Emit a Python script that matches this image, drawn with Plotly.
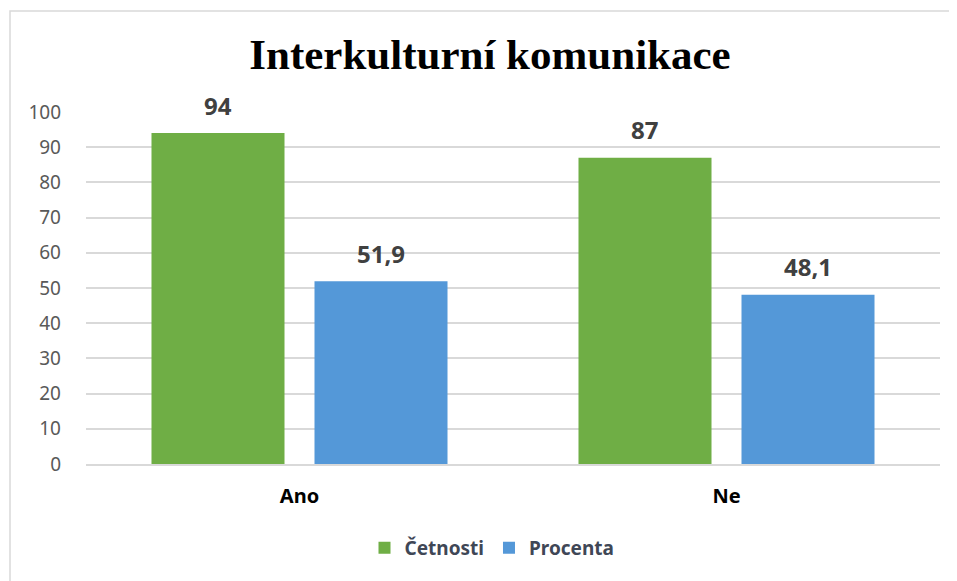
import plotly.graph_objects as go

categories = ["Ano", "Ne"]
cetnosti = [94, 87]
procenta = [51.9, 48.1]
y_ticks = [0, 10, 20, 30, 40, 50, 60, 70, 80, 90, 100]

def fmt(v):
    s = ("%g" % v)
    return s.replace(".", ",")

OFF = 8  # default page body margin
W, H = 957 - OFF, 581 - OFF
# target pixel positions in the screenshot, converted to figure coordinates
ml, mr = 86 - OFF, 957 - 940
mt, mb = 112 - OFF, 581 - 464
pw, ph = W - ml - mr, H - mt - mb

BARGAP = 0.2365
GROUPGAP = 0.184

def px_x(p):
    return (p - OFF - ml) / pw

def px_y(p):
    return (H - mb - (p - OFF)) / ph

label_font = dict(family="Noto Sans", size=24, color="#404040", weight="bold")

series = [("Četnosti", cetnosti, "#6fae45"), ("Procenta", procenta, "#5498d8")]

fig = go.Figure()
for name, vals, col in series:
    fig.add_trace(go.Bar(
        x=categories, y=vals, name=name,
        marker=dict(color=col, line=dict(width=0)),
    ))

# value labels, placed above each bar through the axes
cat_px = pw / len(categories)
slot_px = cat_px * (1 - BARGAP) / len(series)
for i, (name, vals, col) in enumerate(series):
    xs = (i - (len(series) - 1) / 2) * slot_px
    for c, v in zip(categories, vals):
        fig.add_annotation(x=c, y=v, text=fmt(v), showarrow=False,
                           xshift=xs, yshift=28, yanchor="middle", xanchor="center",
                           font=label_font)

fig.add_shape(type="rect", xref="paper", yref="paper",
              x0=px_x(10), x1=px_x(1000), y0=px_y(640), y1=px_y(11),
              line=dict(color="#d9d9d9", width=1.5), fillcolor="rgba(0,0,0,0)",
              layer="below")

fig.update_layout(
    width=W, height=H,
    margin=dict(l=ml, r=mr, t=mt, b=mb, pad=0),
    paper_bgcolor="white", plot_bgcolor="white",
    barmode="group", bargap=BARGAP, bargroupgap=GROUPGAP,
    title=dict(text="<b>Interkulturní komunikace</b>",
               x=(490 - OFF) / W, xanchor="center",
               y=1 - (54 - OFF) / H, yanchor="middle",
               font=dict(family="Liberation Serif", size=43, color="#000000")),
    showlegend=True,
    legend=dict(orientation="h", x=px_x(492), xanchor="center", y=px_y(548), yanchor="middle",
                font=dict(family="Noto Sans", size=19, color="#3f4756", weight="bold"),
                itemwidth=30, traceorder="normal", bgcolor="rgba(0,0,0,0)"),
    font=dict(family="Noto Sans"),
)
fig.update_xaxes(
    showgrid=False, showline=True, linecolor="#d9d9d9", linewidth=1.5,
    tickfont=dict(family="Noto Sans", size=20, color="#000000", weight="bold"),
    ticks="", ticklabelstandoff=13,
)
fig.update_yaxes(
    range=[0, 100], tickvals=y_ticks, showgrid=True, gridcolor="#d9d9d9", gridwidth=1.5,
    zeroline=False, showline=False,
    tickfont=dict(family="Noto Sans", size=19, color="#595959"),
    ticks="", ticklabelstandoff=24,
)

fig.write_html("out.html")
